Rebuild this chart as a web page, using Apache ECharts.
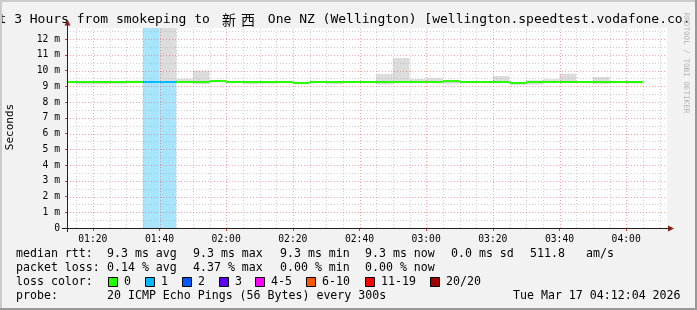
<!DOCTYPE html>
<html><head><meta charset="utf-8">
<script src="https://cdn.jsdelivr.net/npm/echarts@6/dist/echarts.min.js"></script>
<style>html,body{margin:0;padding:0;background:#f2f2f2;}#c{width:697px;height:310px;}</style>
</head><body><div id="c"></div>
<script>
// ---- data (minutes since midnight; values in ms) ----
const binStart = [70,75,80,85,90,95,100,105,110,115,120,125,130,135,140,145,150,155,160,165,170,175,180,185,190,195,200,205,210,215,220,225,230,235,240];
const binEnd   = [75,80,85,90,95,100,105,110,115,120,125,130,135,140,145,150,155,160,165,170,175,180,185,190,195,200,205,210,215,220,225,230,235,240,245];
const medianMs = [9.27,9.27,9.27,9.27,9.27,9.27,9.27,9.27,9.27,9.33,9.27,9.27,9.27,9.27,9.21,9.27,9.27,9.27,9.27,9.27,9.27,9.27,9.27,9.33,9.27,9.27,9.27,9.21,9.27,9.27,9.27,9.27,9.27,9.27,9.27];
const smokeLo  = [9.24,9.12,9.12,9.15,9.25,9.27,9.27,9.25,9.13,9.30,9.25,9.13,9.16,9.25,9.12,9.25,9.13,9.25,9.25,9.11,9.20,9.24,9.20,9.16,9.25,9.25,9.24,9.08,9.10,9.24,9.24,9.25,9.14,9.25,9.17];
const smokeHi  = [9.30,9.29,9.29,9.29,9.36,9.28,13.5,9.48,10.0,9.36,9.35,9.29,9.29,9.35,9.25,9.33,9.29,9.30,9.30,9.78,10.79,9.46,9.52,9.34,9.30,9.30,9.65,9.24,9.38,9.45,9.80,9.30,9.59,9.30,9.29];
const lossCount= [0,0,0,0,0,1,1,0,0,0,0,0,0,0,0,0,0,0,0,0,0,0,0,0,0,0,0,0,0,0,0,0,0,0,0];

const xMajorTicks = [80,100,120,140,160,180,200,220,240];
const xTickLabels = ['01:20','01:40','02:00','02:20','02:40','03:00','03:20','03:40','04:00'];
const xMinorTicks = [75,85,90,95,105,110,115,125,130,135,145,150,155,165,170,175,185,190,195,205,210,215,225,230,235,245,250];
const yMajorTicks = [0,1,2,3,4,5,6,7,8,9,10,11,12];
const yTickLabels = ['0','1 m','2 m','3 m','4 m','5 m','6 m','7 m','8 m','9 m','10 m','11 m','12 m'];
const yMinorTicks = [0.5,1.5,2.5,3.5,4.5,5.5,6.5,7.5,8.5,9.5,10.5,11.5,12.5];

const lossLabels = ['0','1','2','3','4-5','6-10','11-19','20/20'];
const lossColors = ['#26ff00','#00b8ff','#0059ff','#5e00ff','#ff00ff','#ff5500','#ff0000','#a10000'];
const lossBand   = ['#ffffff','#a8e4fb','#9fbcff','#c0a0ff','#ffb0ff','#ffc0a0','#ffa0a0','#e0a0a0'];

const statsRtt  = ['9.3 ms avg','9.3 ms max','9.3 ms min','9.3 ms now','0.0 ms sd','511.8','am/s'];
const statsLoss = ['0.14 % avg','4.37 % max','0.00 % min','0.00 % now'];
const probeText = '20 ICMP Echo Pings (56 Bytes) every 300s';
const dateText  = 'Tue Mar 17 04:12:04 2026';
const titleA = 'Last 3 Hours from smokeping to ';
const titleCJK = ['新','西'];
const titleB = ' One NZ (Wellington) [wellington.speedtest.vodafone.co.nz]';

const X_MIN = 72.25, X_MAX = 252.25, Y_MAX = 12.70;
const MONO = '"DejaVu Sans Mono", monospace';
const legendBoxX = [108, 145, 182, 219, 255, 306, 365, 430];

function bucket(n){ if(n<=0) return 0; if(n<=3) return n; if(n<=5) return 4; if(n<=10) return 5; if(n<=19) return 6; return 7; }

const bins = binStart.map((s,i)=>[s, binEnd[i], medianMs[i], smokeLo[i], smokeHi[i], lossCount[i]]);
const vgrid = xMinorTicks.map(v=>[v,0]).concat(xMajorTicks.map(v=>[v,1]));
const hgrid = yMinorTicks.map(v=>[v,0]).concat(yMajorTicks.filter(v=>v>0).map(v=>[v,1]));

const chart = echarts.init(document.getElementById('c'), null, {renderer:'canvas'});

const graphics = [];
// title
graphics.push({type:'text', x:-25, y:19.5, style:{text:titleA, font:'13px '+MONO, fill:'#000', textAlign:'left', textVerticalAlign:'middle'}});
graphics.push({type:'text', x:222, y:19.5, style:{text:titleCJK[0], font:'14px "Noto Sans CJK SC"', fill:'#000', textAlign:'left', textVerticalAlign:'middle'}});
graphics.push({type:'text', x:241, y:19.5, style:{text:titleCJK[1], font:'14px "Noto Sans CJK SC"', fill:'#000', textAlign:'left', textVerticalAlign:'middle'}});
graphics.push({type:'text', x:260, y:19.5, style:{text:titleB, font:'13px '+MONO, fill:'#000', textAlign:'left', textVerticalAlign:'middle'}});
// cover title overflow at right
graphics.push({type:'rect', shape:{x:688,y:2,width:7,height:24}, style:{fill:'#f2f2f2'}, silent:true, z:5});
// y label
graphics.push({type:'text', x:10.5, y:127, rotation:Math.PI/2, style:{text:'Seconds', font:'11px '+MONO, fill:'#000', textAlign:'center', textVerticalAlign:'middle'}});
// rrdtool credit
graphics.push({type:'text', x:686, y:63, rotation:-Math.PI/2, z:6, style:{text:'RRDTOOL / TOBI OETIKER', font:'7.6px '+MONO, fill:'#b4b4b4', textAlign:'center', textVerticalAlign:'middle'}});
// border
graphics.push({type:'rect', shape:{x:0,y:0,width:697,height:2}, style:{fill:'#cbcbcb'}, silent:true, z:7});
graphics.push({type:'rect', shape:{x:0,y:0,width:2,height:310}, style:{fill:'#cbcbcb'}, silent:true, z:7});
graphics.push({type:'rect', shape:{x:0,y:308,width:697,height:2}, style:{fill:'#999999'}, silent:true, z:7});
graphics.push({type:'rect', shape:{x:695,y:0,width:2,height:310}, style:{fill:'#999999'}, silent:true, z:7});
// axis extensions and arrows
graphics.push({type:'line', shape:{x1:67.5,y1:24,x2:67.5,y2:232}, style:{stroke:'#202020', lineWidth:1}, z:20});
graphics.push({type:'line', shape:{x1:62,y1:228.5,x2:669,y2:228.5}, style:{stroke:'#202020', lineWidth:1}, z:20});
graphics.push({type:'polygon', shape:{points:[[67.5,19.5],[64.5,25.5],[70.5,25.5]]}, style:{fill:'#7f1f1f'}, z:21});
graphics.push({type:'polygon', shape:{points:[[674,228.5],[668,225.5],[668,231.5]]}, style:{fill:'#7f1f1f'}, z:21});
// legend rows
const txt = (s,x,y)=>({type:'text', x:x, y:y, style:{text:s, font:'11.6px '+MONO, fill:'#000', textAlign:'left', textVerticalAlign:'middle'}});
graphics.push(txt('median rtt:',16,254));
const rttX = [107,193,280,365,451,530,586];
statsRtt.forEach((s,i)=>graphics.push(txt(s,rttX[i],254)));
graphics.push(txt('packet loss:',16,268));
statsLoss.forEach((s,i)=>graphics.push(txt(s,rttX[i],268)));
graphics.push(txt('loss color:',16,282));
lossLabels.forEach((s,i)=>{
  const bx = legendBoxX[i];
  graphics.push({type:'rect', shape:{x:bx+0.5,y:277.5,width:9,height:9}, style:{fill:lossColors[i], stroke:'#000', lineWidth:1}});
  graphics.push(txt(s,bx+16,282));
});
graphics.push(txt('probe:',16,296));
graphics.push(txt(probeText,107,296));
graphics.push(txt(dateText,513,296));

const option = {
  backgroundColor:'#f2f2f2',
  animation:false,
  grid:{left:67, right:30, top:28, bottom:82, show:true, backgroundColor:'#ffffff', borderWidth:0},
  xAxis:{type:'value', min:X_MIN, max:X_MAX, z:10,
    axisLine:{show:true, lineStyle:{color:'#202020', width:1}},
    splitLine:{show:false},
    axisTick:{show:true, customValues:xMajorTicks, length:3, inside:false, lineStyle:{color:'#d04040'}},
    axisLabel:{show:true, customValues:xMajorTicks, margin:6, color:'#000', fontFamily:'DejaVu Sans Mono', fontSize:9.7,
      formatter:(v)=>{const i=xMajorTicks.indexOf(v); return i>=0?xTickLabels[i]:'';}}
  },
  yAxis:{type:'value', min:0, max:Y_MAX, z:10,
    axisLine:{show:true, lineStyle:{color:'#202020', width:1}},
    splitLine:{show:false},
    axisTick:{show:true, customValues:yMajorTicks, length:2, lineStyle:{color:'#d04040'}},
    axisLabel:{show:true, customValues:yMajorTicks, margin:7, color:'#000', fontFamily:'DejaVu Sans Mono', fontSize:9.7,
      formatter:(v)=>{const i=yMajorTicks.indexOf(v); return i>=0?yTickLabels[i]:'';}}
  },
  series:[
    { type:'custom', name:'loss', z:1, clip:true, silent:true,
      data: bins.filter(b=>b[5]>0),
      renderItem:(p,api)=>{
        const a = api.coord([api.value(0), Y_MAX]); const b = api.coord([api.value(1), 0]);
        return {type:'rect', shape:{x:a[0], y:a[1], width:b[0]-a[0], height:b[1]-a[1]}, style:{fill:lossBand[bucket(api.value(5))]}};
      }},
    { type:'custom', name:'smoke', z:2, clip:true, silent:true,
      data: bins,
      renderItem:(p,api)=>{
        const a = api.coord([api.value(0), api.value(4)]); const b = api.coord([api.value(1), api.value(3)]);
        return {type:'rect', shape:{x:a[0], y:a[1], width:b[0]-a[0], height:b[1]-a[1]}, style:{fill:'#dcdcdc'}};
      }},
    { type:'custom', name:'vgrid', z:3, clip:true, silent:true,
      data: vgrid,
      renderItem:(p,api)=>{
        const a = api.coord([api.value(0), 0]); const b = api.coord([api.value(0), Y_MAX]);
        const x = Math.round(a[0])+0.5;
        return {type:'line', shape:{x1:x, y1:a[1], x2:x, y2:b[1]}, style:{stroke: api.value(1)? 'rgba(230,60,60,0.45)':'rgba(150,150,150,0.45)', lineWidth:1, lineDash:[1,2]}};
      }},
    { type:'custom', name:'hgrid', z:3, clip:true, silent:true,
      data: hgrid,
      renderItem:(p,api)=>{
        const a = api.coord([X_MIN, api.value(0)]); const b = api.coord([X_MAX, api.value(0)]);
        const y = Math.round(a[1])+0.5;
        return {type:'line', shape:{x1:a[0], y1:y, x2:b[0], y2:y}, style:{stroke: api.value(1)? 'rgba(230,60,60,0.45)':'rgba(150,150,150,0.45)', lineWidth:1, lineDash:[1,2]}};
      }},
    { type:'custom', name:'median', z:4, clip:true, silent:true,
      data: bins,
      renderItem:(p,api)=>{
        const a = api.coord([api.value(0), api.value(2)]); const b = api.coord([api.value(1), api.value(2)]);
        return {type:'rect', shape:{x:a[0], y:a[1]-1, width:b[0]-a[0], height:2}, style:{fill:lossColors[bucket(api.value(5))]}};
      }}
  ],
  graphic: graphics
};
chart.setOption(option);
</script></body></html>
